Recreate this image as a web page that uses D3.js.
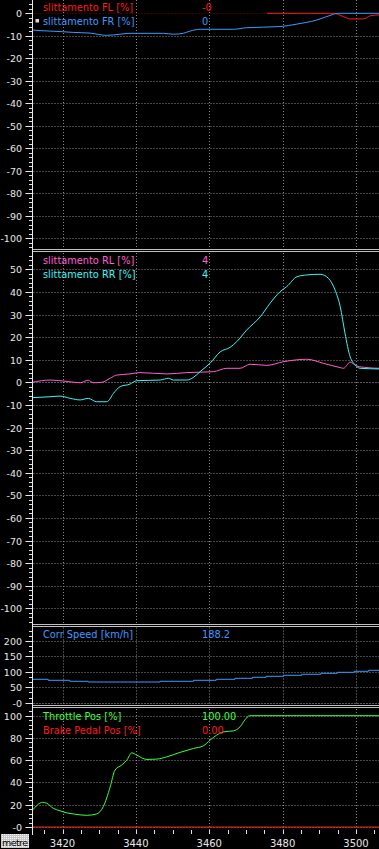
<!DOCTYPE html>
<html>
<head>
<meta charset="utf-8">
<script src="https://cdn.jsdelivr.net/npm/d3@7"></script>
<style>
  html, body { margin: 0; padding: 0; background: #000; }
  svg { display: block; font-family: "DejaVu Sans", sans-serif; }
</style>
</head>
<body>
<script>
(function() {
  // distance axis, metres
  var xTicks = [3420, 3440, 3460, 3480, 3500];

  // wheel slip, front
  var slipFL = [[3475.7, 0], [3493.9, 0], [3496.6, -1.5], [3498.4, -2.5], [3502.0, -2.5], [3503.9, -1.1], [3506.3, -0.7]];
  var slipFR = [[3411.8, -7.4], [3413.9, -7.7], [3416.6, -7.9], [3420.2, -8.2], [3423.0, -8.5], [3427.5, -8.8], [3432.0, -9.8],
    [3435.7, -9.3], [3438.4, -8.9], [3447.5, -8.9], [3450.2, -9.3], [3452.9, -8.9], [3454.8, -7.9], [3457.5, -7.1],
    [3466.6, -7.1], [3470.2, -6.4], [3479.3, -5.9], [3483.9, -4.8], [3489.3, -3.0], [3493.9, -0.4], [3494.8, 0], [3506.3, 0]];

  // wheel slip, rear
  var slipRL = [[3411.8, 0], [3416.6, 1], [3421.2, 0.4], [3424.8, -0.2], [3427.0, 0.9], [3428.4, -0.2], [3430.7, 0],
    [3433.0, 1.8], [3434.8, 3.2], [3438.4, 3.7], [3441.1, 4.3], [3448.4, 3.7], [3453.9, 4.3], [3461.1, 4.7],
    [3464.8, 6.2], [3468.4, 6.2], [3471.1, 8.0], [3475.7, 7.5], [3480.2, 9.1], [3486.6, 10.2], [3491.1, 8.4],
    [3495.7, 6.5], [3496.6, 6.2], [3498.4, 8.9], [3500.2, 7.2], [3503.0, 6.5], [3506.3, 6.2]];
  var slipRR = [[3411.8, -6.8], [3416.6, -6.4], [3419.3, -6.1], [3422.1, -7.1], [3424.8, -7.8], [3427.0, -7.1],
    [3429.3, -8.6], [3432.1, -8.6], [3433.9, -4.9], [3435.7, -1.9], [3438.4, -0.8], [3440.2, 0.7], [3446.6, 1.0],
    [3448.9, 1.8], [3450.2, 1.0], [3453.9, 1.0], [3455.7, 2.2], [3457.5, 4.7], [3460.2, 8.4], [3463.0, 13.5],
    [3465.7, 15.5], [3467.5, 18.0], [3470.2, 23.1], [3473.9, 29.0], [3476.6, 35.0], [3479.3, 40.1], [3481.1, 42.3],
    [3483.9, 46.7], [3486.6, 47.5], [3490.2, 47.8], [3492.5, 46.0], [3494.3, 40.8], [3495.7, 33.5], [3497.0, 21.7],
    [3498.4, 11.3], [3499.8, 7.7], [3501.1, 6.2], [3506.3, 5.9]];

  // speed (stepped)
  var corrSpeed = [[3411.8, 75.9], [3416.1, 72.6], [3422.0, 69.4], [3427.0, 67.1], [3446.6, 69.4], [3455.7, 72.6],
    [3461.9, 75.9], [3467.0, 79.1], [3471.8, 82.3], [3475.5, 85.6], [3480.2, 88.8], [3485.2, 92.1], [3490.4, 95.3],
    [3494.9, 98.5], [3499.5, 101.7], [3503.4, 105.0], [3506.3, 105.0]];

  // pedals
  var throttle = [[3411.8, 15.0], [3414.6, 22.2], [3415.7, 21.3], [3417.5, 16.8], [3419.3, 14.6], [3421.1, 12.8],
    [3423.0, 11.7], [3426.6, 10.5], [3429.3, 11.7], [3431.1, 18.2], [3433.0, 36.1], [3434.3, 51.1], [3436.1, 55.6],
    [3437.5, 60.0], [3438.9, 66.6], [3440.2, 64.6], [3443.0, 60.7], [3445.7, 61.0], [3448.4, 63.0], [3452.0, 67.0],
    [3455.7, 70.6], [3458.4, 72.9], [3460.2, 78.0], [3462.0, 82.5], [3463.9, 85.5], [3466.6, 86.4], [3468.4, 90.0],
    [3469.8, 96.6], [3471.0, 100], [3506.3, 100]];
  var brake = [[3411.8, 0], [3506.3, 0]];

  // y tick values and labels per panel
  var ticks1 = [0, -10, -20, -30, -40, -50, -60, -70, -80, -90, -100];
  var labels1 = ['0', '-10', '-20', '-30', '-40', '-50', '-60', '-70', '-80', '-90', '-100'];
  var ticks2 = [50, 40, 30, 20, 10, 0, -10, -20, -30, -40, -50, -60, -70, -80, -90, -100];
  var labels2 = ['50', '40', '30', '20', '10', '0', '-10', '-20', '-30', '-40', '-50', '-60', '-70', '-80', '-90', '-100'];
  var ticks3 = [200, 150, 100, 50, 0];
  var labels3 = ['200', '150', '100', '50', '-0'];
  var ticks4 = [100, 80, 60, 40, 20, 0];
  var labels4 = ['100', '80', '60', '40', '20', '-0'];

  var W = 379, H = 849, axisX = 32.5;

  var svg = d3.select('body').append('svg').attr('width', W).attr('height', H);

  var x = d3.scaleLinear().domain([3420, 3500]).range([62.5, 356]);

  var panels = [
    { top: 0, bottom: 249, y: d3.scaleLinear().domain([-100, 0]).range([238.3, 13.3]), ticks: ticks1, labels: labels1, minor: 2,
      zeroColor: '#7a0000',
      series: [
        { name: 'slittamento FL [%]', value: '-0', color: '#ff1a1a', data: slipFL },
        { name: 'slittamento FR [%]', value: '0', color: '#3d9bff', data: slipFR, marker: true }
      ] },
    { top: 253, bottom: 623.5, y: d3.scaleLinear().domain([-100, 50]).range([608.3, 269.3]), ticks: ticks2, labels: labels2, minor: 2,
      series: [
        { name: 'slittamento RL [%]', value: '4', color: '#ff5fcf', data: slipRL },
        { name: 'slittamento RR [%]', value: '4', color: '#3ff5f5', data: slipRR }
      ] },
    { top: 627.5, bottom: 705, y: d3.scaleLinear().domain([0, 200]).range([702.7, 641]), ticks: ticks3, labels: labels3, minor: 50 / 3,
      series: [
        { name: 'Corr Speed [km/h]', value: '188.2', color: '#3d9bff', data: corrSpeed, step: true }
      ] },
    { top: 709, bottom: 829, y: d3.scaleLinear().domain([0, 100]).range([827, 715.7]), ticks: ticks4, labels: labels4, minor: 4,
      series: [
        { name: 'Throttle Pos [%]', value: '100.00', color: '#3dff3d', data: throttle },
        { name: 'Brake Pedal Pos [%]', value: '0.00', color: '#ff1a1a', data: brake }
      ] }
  ];

  var defs = svg.append('defs');
  var pat = defs.append('pattern').attr('id', 'dots').attr('width', 2).attr('height', 2).attr('patternUnits', 'userSpaceOnUse');
  pat.append('rect').attr('width', 2).attr('height', 2).attr('fill', '#c8c8c8');
  pat.append('rect').attr('width', 1).attr('height', 1).attr('fill', '#f4f4f4');

  panels.forEach(function(p, pi) {
    var g = svg.append('g');
    var clipId = 'clip' + pi;
    defs.append('clipPath').attr('id', clipId).append('rect')
      .attr('x', axisX).attr('y', p.top).attr('width', W - axisX).attr('height', p.bottom - p.top);

    // vertical grid
    g.selectAll('line.vg').data(xTicks).enter().append('line')
      .attr('x1', function(d) { return Math.round(x(d)) + 0.5; })
      .attr('x2', function(d) { return Math.round(x(d)) + 0.5; })
      .attr('y1', p.top).attr('y2', pi === 3 ? 834 : p.bottom)
      .attr('stroke', '#8a8a8a').attr('stroke-dasharray', '1,2');

    // horizontal grid
    g.selectAll('line.hg').data(p.ticks).enter().append('line')
      .attr('x1', axisX + 1).attr('x2', W)
      .attr('y1', function(d) { return Math.round(p.y(d)) + 0.5; })
      .attr('y2', function(d) { return Math.round(p.y(d)) + 0.5; })
      .attr('stroke', function(d) { return d === 0 && p.zeroColor ? p.zeroColor : (d === 0 ? '#b0b0b0' : '#8a8a8a'); })
      .attr('stroke-dasharray', '1,2');

    // minor ticks
    var lo = p.y.invert(p.bottom), hi = p.y.invert(p.top);
    var minors = d3.range(Math.ceil(lo / p.minor) * p.minor, hi, p.minor);
    g.selectAll('line.mt').data(minors).enter().append('line')
      .attr('x1', axisX - 3.5).attr('x2', axisX)
      .attr('y1', function(d) { return Math.round(p.y(d)) + 0.5; })
      .attr('y2', function(d) { return Math.round(p.y(d)) + 0.5; })
      .attr('stroke', '#e0e0e0');

    // major ticks + labels
    g.selectAll('line.Mt').data(p.ticks).enter().append('line')
      .attr('x1', axisX - 7).attr('x2', axisX)
      .attr('y1', function(d) { return Math.round(p.y(d)) + 0.5; })
      .attr('y2', function(d) { return Math.round(p.y(d)) + 0.5; })
      .attr('stroke', '#e8e8e8');
    g.selectAll('text.tl').data(p.ticks).enter().append('text')
      .attr('x', 22).attr('y', function(d) { return p.y(d) + 4; })
      .attr('text-anchor', 'end').attr('font-size', 9.5).attr('fill', '#e8e8e8')
      .text(function(d, i) { return p.labels[i]; });

    // traces
    var plot = g.append('g').attr('clip-path', 'url(#' + clipId + ')');
    p.series.forEach(function(s) {
      var line = d3.line()
        .x(function(d) { return x(d[0]); })
        .y(function(d) { return p.y(d[1]); })
        .curve(s.step ? d3.curveStepAfter : d3.curveMonotoneX);
      plot.append('path').datum(s.data).attr('d', line)
        .attr('fill', 'none').attr('stroke', s.color).attr('stroke-width', 1);
    });

    // legend
    p.series.forEach(function(s, i) {
      var by = p.top + 10.5 + i * 14;
      if (s.marker) {
        g.append('rect').attr('x', 35.5).attr('y', by - 5.5).attr('width', 3.5).attr('height', 3.5).attr('fill', '#d8d8d8');
      }
      g.append('text').attr('x', 43).attr('y', by).attr('font-size', 9.8).attr('fill', s.color).text(s.name);
      g.append('text').attr('x', 202).attr('y', by).attr('font-size', 9.8).attr('fill', s.color).text(s.value);
    });
  });

  // panel separators
  var seps = [249.5, 624.5, 705.5];
  seps.forEach(function(sy) {
    svg.append('line').attr('x1', axisX).attr('x2', W).attr('y1', sy).attr('y2', sy).attr('stroke', '#c0c0c0');
    svg.append('line').attr('x1', axisX).attr('x2', W).attr('y1', sy + 2).attr('y2', sy + 2).attr('stroke', '#c0c0c0');
  });

  // y axis line
  svg.append('line').attr('x1', axisX).attr('x2', axisX).attr('y1', 0).attr('y2', 835).attr('stroke', '#e8e8e8');

  // x ticks & labels
  var xMinor = d3.range(3415, 3507, 5);
  svg.selectAll('line.xt').data(xMinor).enter().append('line')
    .attr('x1', function(d) { return Math.round(x(d)) + 0.5; })
    .attr('x2', function(d) { return Math.round(x(d)) + 0.5; })
    .attr('y1', 830).attr('y2', 834)
    .attr('stroke', '#e0e0e0');
  svg.selectAll('text.xl').data(xTicks).enter().append('text')
    .attr('x', function(d) { return x(d); }).attr('y', 847)
    .attr('text-anchor', 'middle').attr('font-size', 10).attr('fill', '#e8e8e8')
    .text(function(d) { return d; });

  // unit box
  svg.append('rect').attr('x', 1).attr('y', 834).attr('width', 28).attr('height', 14).attr('fill', 'url(#dots)');
  svg.append('text').attr('x', 2).attr('y', 845.5).attr('font-size', 9.5).attr('textLength', 26)
    .attr('fill', '#000').text('metre');
})();
</script>
</body>
</html>
